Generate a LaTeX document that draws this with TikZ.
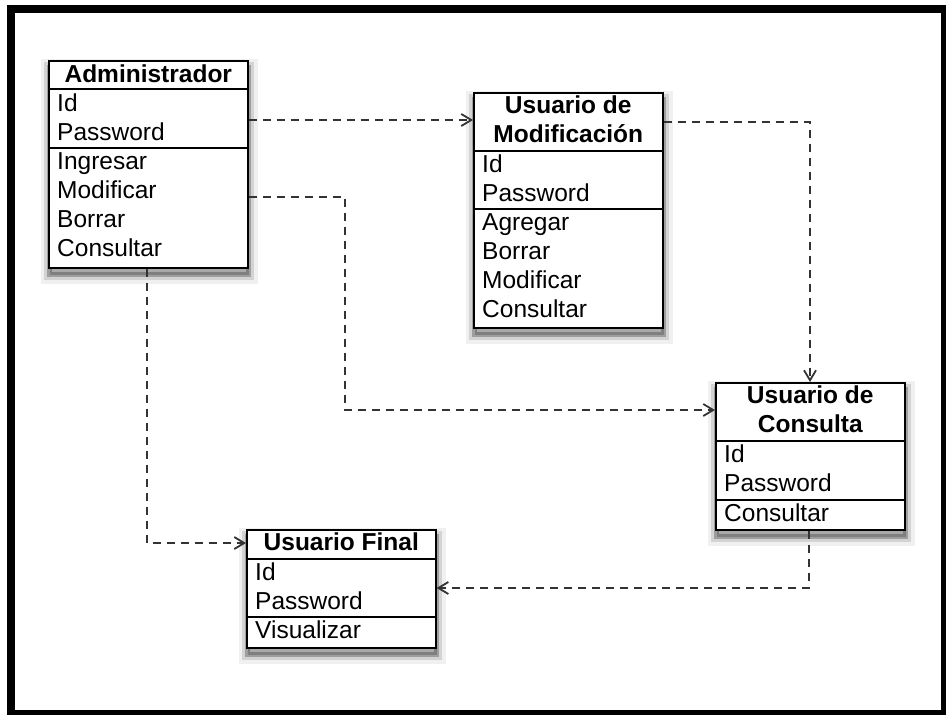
\documentclass[tikz,border=0pt]{standalone}
\usepackage{fontspec}
\setmainfont{Liberation Sans}
\usetikzlibrary{calc,arrows.meta}
\begin{document}
\begin{tikzpicture}[x=1pt,y=-1pt,
  classbox/.style={draw=black, line width=1.6pt, fill=white, inner sep=0pt, anchor=north west,
    preaction={draw=black, line width=18pt, draw opacity=0.06, fill=black, fill opacity=0.2,
      transform canvas={xshift=1pt,yshift=-7pt}},
    preaction={draw=black, line width=11pt, draw opacity=0.12,
      transform canvas={xshift=1pt,yshift=-7pt}},
    preaction={draw=black, line width=5pt, draw opacity=0.25,
      transform canvas={xshift=1pt,yshift=-7pt}}},
  sep/.style={draw=black, line width=1.4pt},
  title/.style={inner sep=0pt, anchor=base, font=\fontsize{24.5}{29}\selectfont\bfseries},
  member/.style={inner sep=0pt, anchor=base west, font=\fontsize{24.5}{29}\selectfont},
  dep/.style={draw=black!80, line width=2.5pt, dash pattern=on 8pt off 6pt,
    -{Straight Barb[length=10pt,width=12pt,line width=1.8pt]}},
]
\useasboundingbox (0,0) rectangle (946,715);
% outer frame
\draw[line width=8pt] (11,9) rectangle (945,714);

% Administrador
\node[classbox, minimum width=199pt, minimum height=207pt] (adm) at (48,60) {};
\draw[sep] (adm.west |- 0,89) -- (adm.east |- 0,89);
\draw[sep] (adm.west |- 0,148) -- (adm.east |- 0,148);
\node[title] (admT) at ($(adm.north)+(0,22)$) {Administrador};
\node[member] (admA) at ($(adm.north west)+(9,51)$) {Id};
\node[member] (admB) at ($(adm.north west)+(9,80)$) {Password};
\node[member] (admC) at ($(adm.north west)+(9,109)$) {Ingresar};
\node[member] (admD) at ($(adm.north west)+(9,138)$) {Modificar};
\node[member] (admE) at ($(adm.north west)+(9,167)$) {Borrar};
\node[member] (admF) at ($(adm.north west)+(9,196)$) {Consultar};

% Usuario de Modificacion
\node[classbox, minimum width=189pt, minimum height=235pt] (mod) at (473,92) {};
\draw[sep] (mod.west |- 0,151) -- (mod.east |- 0,151);
\draw[sep] (mod.west |- 0,209) -- (mod.east |- 0,209);
\node[title] (modT1) at ($(mod.north)+(0,21)$) {Usuario de};
\node[title] (modT2) at ($(mod.north)+(0,50)$) {Modificación};
\node[member] (modA) at ($(mod.north west)+(9,80)$) {Id};
\node[member] (modB) at ($(mod.north west)+(9,109)$) {Password};
\node[member] (modC) at ($(mod.north west)+(9,138)$) {Agregar};
\node[member] (modD) at ($(mod.north west)+(9,167)$) {Borrar};
\node[member] (modE) at ($(mod.north west)+(9,196)$) {Modificar};
\node[member] (modF) at ($(mod.north west)+(9,225)$) {Consultar};

% Usuario de Consulta
\node[classbox, minimum width=189pt, minimum height=147pt] (con) at (715,382) {};
\draw[sep] (con.west |- 0,441) -- (con.east |- 0,441);
\draw[sep] (con.west |- 0,500) -- (con.east |- 0,500);
\node[title] (conT1) at ($(con.north)+(0,21)$) {Usuario de};
\node[title] (conT2) at ($(con.north)+(0,50)$) {Consulta};
\node[member] (conA) at ($(con.north west)+(9,80)$) {Id};
\node[member] (conB) at ($(con.north west)+(9,109)$) {Password};
\node[member] (conC) at ($(con.north west)+(9,139)$) {Consultar};

% Usuario Final
\node[classbox, minimum width=189pt, minimum height=118pt] (fin) at (246,529) {};
\draw[sep] (fin.west |- 0,559) -- (fin.east |- 0,559);
\draw[sep] (fin.west |- 0,617) -- (fin.east |- 0,617);
\node[title] (finT) at ($(fin.north)+(0,21)$) {Usuario Final};
\node[member] (finA) at ($(fin.north west)+(9,51)$) {Id};
\node[member] (finB) at ($(fin.north west)+(9,80)$) {Password};
\node[member] (finC) at ($(fin.north west)+(9,109)$) {Visualizar};

% routing points
\coordinate (r0) at (0,120);
\coordinate (r1) at (345,197);
\coordinate (r2) at (345,410);
\coordinate (r3) at (810,122);
\coordinate (r4) at (809,588);
\coordinate (r5) at (147,543);

% dependencies
\draw[dep] (adm.east |- r0) -- (mod.west |- r0);
\draw[dep] (adm.east |- r1) -- (r1) -- (r2) -- (con.west |- r2);
\draw[dep] (mod.east |- r3) -- (r3) -- (con.north -| r3);
\draw[dep] (con.south -| r4) -- (r4) -- (fin.east |- r4);
\draw[dep] (adm.south -| r5) -- (r5) -- (fin.west |- r5);
\end{tikzpicture}
\end{document}
